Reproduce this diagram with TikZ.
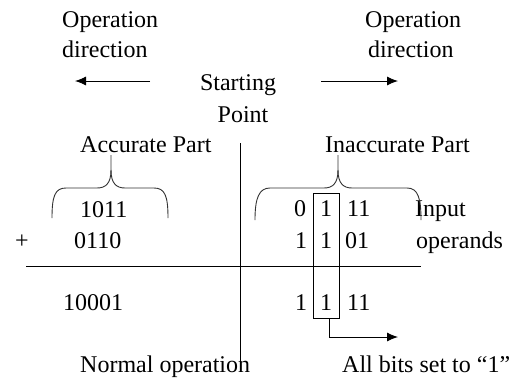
\documentclass[tikz,border=0pt]{standalone}
\usepackage{fontspec}
\setmainfont{Liberation Serif}
\usetikzlibrary{arrows.meta}
\begin{document}
\begin{tikzpicture}[x=1pt,y=-1pt,
  txt/.style={inner sep=0pt, anchor=base west, font=\fontsize{24}{30}\selectfont},
  ln/.style={line width=0.9pt, black},
  brace/.style={line width=0.9pt, black!80},
  arr/.style={ln,-{Latex[length=11pt,width=9pt]}}]
\useasboundingbox (0,0) rectangle (521,381);
% texts
\node[txt] (opl1) at (62,27) {Operation};
\node[txt] (opl2) at (62,57) {direction};
\node[txt] (opr1) at (365,27) {Operation};
\node[txt] (opr2) at (368,57) {direction};
\node[txt,anchor=base] (sp1) at (238,90) {Starting};
\node[txt,anchor=base] (sp2) at (243,122) {Point};
\node[txt] (acc) at (80,152) {Accurate Part};
\node[txt] (inacc) at (325,152) {Inaccurate Part};
\node[txt] (a1) at (80,217) {1011};
\node[txt] (a2) at (74,248) {0110};
\node[txt,anchor=base] (plus) at (22,248) {+};
\node[txt] (a3) at (63,310) {10001};
\node[txt] (b10) at (294,216) {0};
\node[txt] (b11) at (320,216) {1};
\node[txt] (b12) at (347,216) {11};
\node[txt] (b20) at (295,248) {1};
\node[txt] (b21) at (320,248) {1};
\node[txt] (b22) at (345,248) {01};
\node[txt] (b30) at (295,310) {1};
\node[txt] (b31) at (320,310) {1};
\node[txt] (b32) at (347,310) {11};
\node[txt] (in1) at (415,216) {Input};
\node[txt] (in2) at (416,248) {operands};
\node[txt] (norm) at (80,372) {Normal operation};
\node[txt] (allb) at (342,372) {All bits set to “1”};
% direction arrows
\coordinate (la1) at (150,81); \coordinate (la2) at (75,81);
\coordinate (ra1) at (321,81); \coordinate (ra2) at (398,81);
\draw[arr] (la1) -- (la2);
\draw[arr] (ra1) -- (ra2);
% axes
\coordinate (h1) at (26,266); \coordinate (h2) at (421,266);
\coordinate (v1) at (240.5,143); \coordinate (v2) at (240.5,365);
\draw[ln] (h1) -- (h2);
\draw[ln] (v1) -- (v2);
% box and arrow
\node[draw, line width=0.9pt, inner sep=0pt, minimum width=26pt, minimum height=125pt] (box) at (326,255.5) {};
\coordinate (bx) at (329,318); \coordinate (bc) at (329,337); \coordinate (bt) at (398,337);
\draw[arr] (bx) -- (bc) -- (bt);
% braces
\draw[brace] (52,218) .. controls (52,196) and (55,188) .. (66,188) -- (97,188)
  .. controls (106,188) and (111,183) .. (111,170) -- (111,155);
\draw[brace] (168,218) .. controls (168,196) and (165,188) .. (154,188) -- (125,188)
  .. controls (116,188) and (111,183) .. (111,170);
\draw[brace] (255,220) .. controls (255,198) and (259,188) .. (270,188) -- (324,188)
  .. controls (333,188) and (338,183) .. (338,170) -- (338,155);
\draw[brace] (421,220) .. controls (421,198) and (418,188) .. (407,188) -- (352,188)
  .. controls (343,188) and (338,183) .. (338,170);
\end{tikzpicture}
\end{document}
